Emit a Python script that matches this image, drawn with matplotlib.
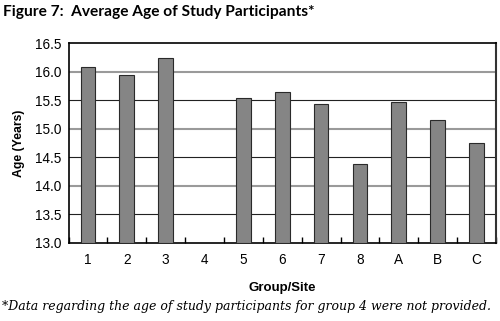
import numpy as np
import matplotlib.pyplot as plt
from matplotlib.ticker import MultipleLocator

# data
groups = ["1", "2", "3", "4", "5", "6", "7", "8", "A", "B", "C"]
avg_age = [16.08, 15.94, 16.24, np.nan, 15.54, 15.65, 15.43, 14.38, 15.46, 15.15, 14.75]
y_ticks = [13.0, 13.5, 14.0, 14.5, 15.0, 15.5, 16.0, 16.5]

fig = plt.figure(figsize=(5, 3.21), dpi=100)
ax = fig.add_axes([0.137, 0.243, 0.855, 0.623])

x = np.arange(len(groups))
heights = [v - 13.0 for v in avg_age]
ax.bar(x, heights, bottom=13.0, width=0.38, color="#858585",
       edgecolor="#2a2a2a", linewidth=0.8, zorder=3)

ax.set_xlim(-0.5, len(groups) - 0.5)
ax.set_ylim(13.0, 16.5)
ax.set_yticks(y_ticks)
ax.set_yticklabels([f"{v:.1f}" for v in y_ticks], fontsize=9.8, family="Liberation Sans")
ax.set_xticks(x)
ax.set_xticklabels(groups, fontsize=9.8, family="Liberation Sans")
ax.tick_params(axis="x", which="major", length=0, pad=7)
ax.tick_params(axis="y", which="major", length=0, pad=5)
ax.xaxis.set_minor_locator(MultipleLocator(1, offset=0.5))
ax.tick_params(axis="x", which="minor", direction="in", length=4, width=1, color="black")

# gridlines: gray on whole years, black on half years
for v in y_ticks[1:-1]:
    if v == int(v):
        ax.axhline(v, color="#9a9a9a", linewidth=1.5, zorder=1)
    else:
        ax.axhline(v, color="#222222", linewidth=0.8, zorder=1)

for side in ["left", "bottom", "top"]:
    ax.spines[side].set_linewidth(1.2)
ax.spines["right"].set_color("#333333")
ax.spines["right"].set_linewidth(1.5)

ax.set_ylabel("Age (Years)", fontsize=8.8, fontweight="bold", family="Liberation Sans", labelpad=7)
ax.set_xlabel("Group/Site", fontsize=9.5, fontweight="bold", family="Liberation Sans", labelpad=11)

fig.text(0.006, 0.962, "Figure 7:  Average Age of Study Participants*", fontsize=11.2,
         fontweight="bold", family="Lato", va="center", ha="left")
fig.text(0.004, 0.045, "*Data regarding the age of study participants for group 4 were not provided.",
         fontsize=9, style="italic", family="DejaVu Serif", va="center", ha="left")

fig.savefig("out.png", dpi=100)
